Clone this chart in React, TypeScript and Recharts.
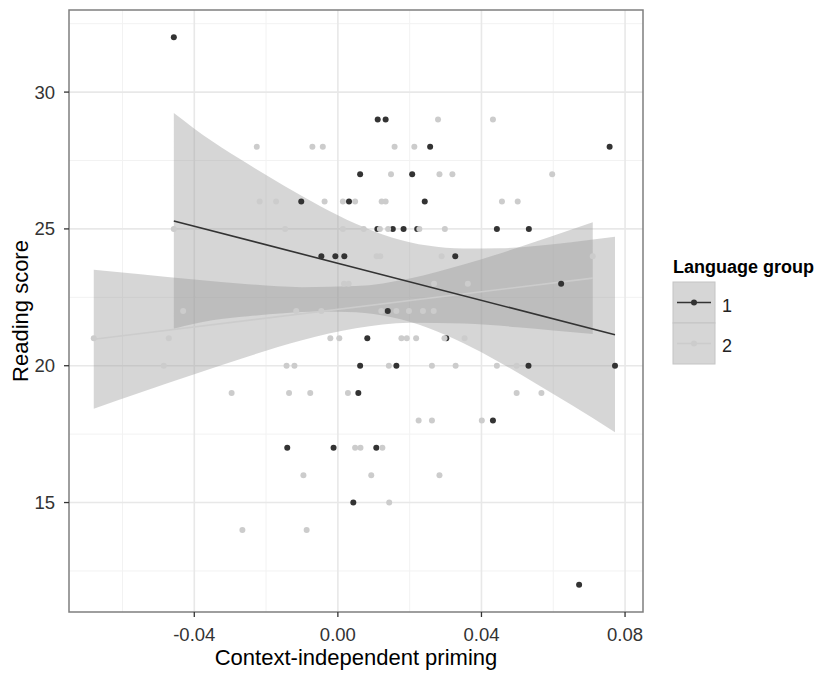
import {
  ComposedChart,
  Area,
  Line,
  Scatter,
  XAxis,
  YAxis,
  CartesianGrid,
  ReferenceArea,
} from 'recharts'

const FONT = '"Liberation Sans", Arial, sans-serif'

// Language group 1 (dark points): [priming, reading score]
const group1 = [
  [-0.0457, 32],
  [0.0111, 29], [0.0133, 29],
  [0.0257, 28], [0.0757, 28],
  [0.0062, 27], [0.0207, 27],
  [-0.0102, 26], [0.0031, 26], [0.0242, 26],
  [0.011, 25], [0.0153, 25], [0.0183, 25], [0.0221, 25], [0.0443, 25], [0.0532, 25],
  [-0.0046, 24], [-0.0007, 24], [0.0018, 24], [0.0327, 24],
  [0.0622, 23],
  [0.0139, 22],
  [0.0082, 21], [0.0302, 21],
  [0.0062, 20], [0.0163, 20], [0.0531, 20], [0.0772, 20],
  [0.0057, 19],
  [0.0432, 18],
  [-0.0141, 17], [-0.0012, 17], [0.0107, 17],
  [0.0043, 15],
  [0.0672, 12],
]

// Language group 2 (light points)
const group2 = [
  [0.0279, 29], [0.0432, 29],
  [-0.0226, 28], [-0.0071, 28], [-0.0042, 28], [0.0158, 28], [0.0213, 28],
  [0.0148, 27], [0.0283, 27], [0.0319, 27], [0.0597, 27],
  [-0.0218, 26], [-0.0172, 26], [-0.0037, 26], [0.0014, 26], [0.0048, 26],
  [0.0122, 26], [0.0133, 26], [0.0457, 26], [0.0501, 26],
  [-0.0457, 25], [-0.0147, 25], [0.0014, 25], [0.0072, 25], [0.0117, 25],
  [0.014, 25], [0.0227, 25], [0.0298, 25],
  [0.0108, 24], [0.0118, 24], [0.0289, 24], [0.071, 24],
  [0.0017, 23], [0.003, 23], [0.0268, 23], [0.0362, 23],
  [-0.0431, 22], [-0.0116, 22], [-0.0046, 22], [0.0121, 22], [0.0163, 22],
  [0.0198, 22], [0.0237, 22], [0.0267, 22],
  [-0.068, 21], [-0.0471, 21], [-0.0021, 21], [0.0004, 21], [0.0177, 21],
  [0.0192, 21], [0.0218, 21], [0.0297, 21], [0.0353, 21],
  [-0.0485, 20], [-0.0143, 20], [-0.0121, 20], [0.0142, 20], [0.0262, 20],
  [0.0328, 20], [0.0443, 20], [0.0498, 20],
  [-0.0296, 19], [-0.0136, 19], [-0.0077, 19], [0.0028, 19], [0.0498, 19], [0.0567, 19],
  [0.0225, 18], [0.0262, 18], [0.0401, 18],
  [0.0048, 17], [0.0063, 17], [0.0124, 17],
  [-0.0096, 16], [0.0093, 16], [0.0283, 16],
  [0.0143, 15],
  [-0.0266, 14], [-0.0087, 14],
]

// fitted lines (end points) and confidence bands
const fit1 = [[-0.0457, 25.29], [0.0772, 21.13]]
const fit2 = [[-0.068, 20.97], [0.071, 23.2]]

const band1X = [-0.0457, -0.035, -0.025, -0.015, -0.005, 0.005, 0.015, 0.025, 0.035, 0.045, 0.055, 0.065, 0.0772]
const band1Low = [21.35, 21.66, 21.81, 21.92, 21.98, 21.95, 21.77, 21.39, 20.82, 20.13, 19.36, 18.57, 17.57]
const band1High = [29.24, 28.2, 27.37, 26.58, 25.84, 25.19, 24.69, 24.39, 24.28, 24.29, 24.38, 24.51, 24.71]

const band2X = [-0.068, -0.055, -0.04, -0.025, -0.01, 0.005, 0.02, 0.035, 0.05, 0.06, 0.071]
const band2Low = [18.43, 19.02, 19.69, 20.34, 20.93, 21.37, 21.57, 21.54, 21.41, 21.29, 21.16]
const band2High = [23.51, 23.34, 23.15, 22.98, 22.87, 22.91, 23.19, 23.7, 24.31, 24.75, 25.24]

const xTicks = [-0.04, 0, 0.04, 0.08]
const yTicks = [15, 20, 25, 30]
const xMinor = [-0.06, -0.02, 0.02, 0.06]
const yMinor = [12.5, 17.5, 22.5, 27.5, 32.5]
const xDomain = [-0.0749, 0.085]
const yDomain = [11, 33]

const toPoints = (arr: number[][]) => arr.map(([x, y]) => ({ x, y }))
const toBand = (xs: number[], lo: number[], hi: number[]) =>
  xs.map((x, i) => ({ x, band: [lo[i], hi[i]] }))

const dot = (fill: string) => (p: any) => (
  <circle cx={p.cx} cy={p.cy} r={3} fill={fill} />
)

const YTitle = (props: any) => {
  const vb = props.viewBox || { x: 0, y: 10, width: 69, height: 602 }
  const cx = 27.5
  const cy = vb.y + vb.height / 2
  return (
    <text
      x={cx}
      y={cy}
      transform={`rotate(-90 ${cx} ${cy})`}
      textAnchor="middle"
      fontSize={22}
      fontFamily={FONT}
      fill="#000"
    >
      Reading score
    </text>
  )
}

const XTitle = (props: any) => {
  const vb = props.viewBox || { x: 69, y: 612, width: 574, height: 63 }
  return (
    <text
      x={vb.x + vb.width / 2}
      y={665}
      textAnchor="middle"
      fontSize={22}
      fontFamily={FONT}
      fill="#000"
    >
      Context-independent priming
    </text>
  )
}

function LegendBox() {
  return (
    <svg
      width={160}
      height={120}
      style={{ position: 'absolute', left: 660, top: 250 }}
    >
      <text x={13} y={23} fontSize={18} fontWeight="bold" fontFamily={FONT} fill="#000">
        Language group
      </text>
      <rect x={13} y={32} width={42} height={41} fill="#d6d6d6" stroke="#c4c4c4" />
      <line x1={17} x2={51} y1={52.5} y2={52.5} stroke="#333333" strokeWidth={1.6} />
      <circle cx={34} cy={52.5} r={3} fill="#333333" />
      <rect x={13} y={73} width={42} height={41} fill="#d6d6d6" stroke="#c4c4c4" />
      <line x1={17} x2={51} y1={93.5} y2={93.5} stroke="#cccccc" strokeWidth={1.6} />
      <circle cx={34} cy={93.5} r={3} fill="#cccccc" />
      <text x={62} y={61.5} fontSize={18} fontFamily={FONT} fill="#222">1</text>
      <text x={62} y={101.5} fontSize={18} fontFamily={FONT} fill="#222">2</text>
    </svg>
  )
}

export default function App() {
  const tickStyle = { fill: '#333333', fontSize: 18.5, fontFamily: FONT }
  return (
    <div style={{ position: 'absolute', left: 0, top: 0, width: 819, height: 675, background: '#fff' }}>
      <ComposedChart
        width={819}
        height={675}
        margin={{ top: 10, right: 176, bottom: 0, left: 0 }}
      >
        <CartesianGrid
          horizontalValues={yMinor}
          verticalValues={xMinor}
          stroke="#f2f2f2"
          strokeWidth={1}
        />
        <CartesianGrid
          horizontalValues={yTicks}
          verticalValues={xTicks}
          stroke="#e8e8e8"
          strokeWidth={1.6}
        />
        <XAxis
          type="number"
          dataKey="x"
          domain={xDomain}
          allowDataOverflow
          ticks={xTicks}
          interval={0}
          tickFormatter={(v: number) => v.toFixed(2)}
          tickSize={5}
          tickMargin={11}
          tickLine={{ stroke: '#333333', strokeWidth: 1.3 }}
          axisLine={false}
          tick={tickStyle}
          height={63}
          label={<XTitle />}
        />
        <YAxis
          type="number"
          domain={yDomain}
          allowDataOverflow
          ticks={yTicks}
          interval={0}
          tickSize={5}
          tickMargin={9}
          tickLine={{ stroke: '#333333', strokeWidth: 1.3 }}
          axisLine={false}
          tick={tickStyle}
          width={69}
          label={<YTitle />}
        />
        <Area
          data={toBand(band2X, band2Low, band2High)}
          dataKey="band"
          type="monotone"
          fill="#999999"
          fillOpacity={0.4}
          stroke="none"
          isAnimationActive={false}
        />
        <Area
          data={toBand(band1X, band1Low, band1High)}
          dataKey="band"
          type="monotone"
          fill="#999999"
          fillOpacity={0.4}
          stroke="none"
          isAnimationActive={false}
        />
        <Line
          data={toPoints(fit2)}
          dataKey="y"
          stroke="#cccccc"
          strokeWidth={1.6}
          dot={false}
          isAnimationActive={false}
        />
        <Line
          data={toPoints(fit1)}
          dataKey="y"
          stroke="#333333"
          strokeWidth={1.6}
          dot={false}
          isAnimationActive={false}
        />
        <Scatter
          data={toPoints(group1)}
          dataKey="y"
          shape={dot('#333333')}
          isAnimationActive={false}
        />
        <Scatter
          data={toPoints(group2)}
          dataKey="y"
          shape={dot('#cccccc')}
          isAnimationActive={false}
        />
        <ReferenceArea
          x1={xDomain[0]}
          x2={xDomain[1]}
          y1={yDomain[0]}
          y2={yDomain[1]}
          fill="none"
          stroke="#7f7f7f"
          strokeWidth={1.5}
          ifOverflow="visible"
        />
      </ComposedChart>
      <LegendBox />
    </div>
  )
}
